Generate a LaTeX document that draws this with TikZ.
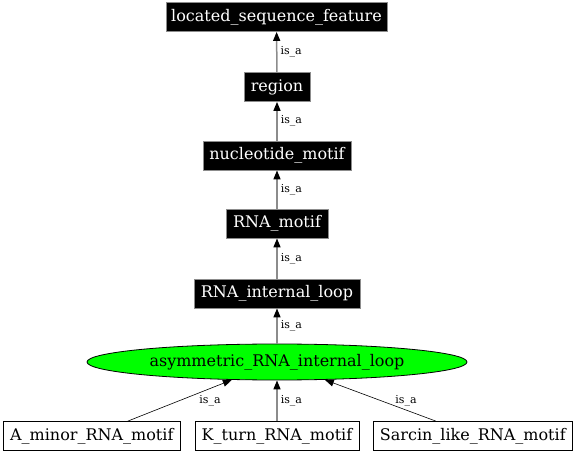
\documentclass[tikz,border=0pt]{standalone}
\usepackage{fontspec}
\setmainfont{DejaVu Serif}
\usetikzlibrary{arrows.meta,shapes.geometric}
\tikzset{
  blackbox/.style={rectangle, fill=black, draw=black!45, line width=0.8pt, text=white, font=\fontsize{16}{19}\selectfont, minimum height=29pt, inner xsep=0pt, inner ysep=0pt},
  whitebox/.style={rectangle, fill=white, draw=black, line width=0.8pt, font=\fontsize{16}{19}\selectfont, minimum height=29pt, inner xsep=0pt, inner ysep=0pt},
  greenell/.style={ellipse, fill=green, draw=black, line width=0.8pt, font=\fontsize{16}{19}\selectfont, minimum width=380pt, minimum height=36pt, inner sep=0pt},
  isa/.style={font=\fontsize{11}{13}\selectfont, inner sep=0pt},
  vedge/.style={draw=black!45, line width=1.5pt, -{Triangle[length=9pt,width=7pt,color=black]}},
  dedge/.style={draw=black, line width=0.6pt, -{Triangle[length=9pt,width=7pt]}},
}
\begin{document}
\begin{tikzpicture}[x=1pt,y=-1pt]
\useasboundingbox (0,0) rectangle (576,454);
\node[blackbox, minimum width=221pt] (lsf) at (276.5,17) {located\_sequence\_feature};
\node[blackbox, minimum width=66pt] (reg) at (277,87) {region};
\node[blackbox, minimum width=148pt] (nm) at (277,155.5) {nucleotide\_motif};
\node[blackbox, minimum width=102pt] (rm) at (277,223.5) {RNA\_motif};
\node[blackbox, minimum width=166pt] (ril) at (277,293.5) {RNA\_internal\_loop};
\node[greenell] (ell) at (277,362) {asymmetric\_RNA\_internal\_loop};
\node[whitebox, minimum width=177pt] (am) at (91.8,436) {A\_minor\_RNA\_motif};
\node[whitebox, minimum width=164pt] (kt) at (277,436) {K\_turn\_RNA\_motif};
\node[whitebox, minimum width=199pt] (sl) at (472.8,436) {Sarcin\_like\_RNA\_motif};
\coordinate (amtop) at ([xshift=36pt]am.north);
\coordinate (sltop) at ([xshift=-37pt]sl.north);
\draw[vedge] (reg) -- (lsf) node[isa, midway, anchor=west, xshift=3pt] (l1) {is\_a};
\draw[vedge] (nm) -- (reg) node[isa, midway, anchor=west, xshift=3pt] (l2) {is\_a};
\draw[vedge] (rm) -- (nm) node[isa, midway, anchor=west, xshift=3pt] (l3) {is\_a};
\draw[vedge] (ril) -- (rm) node[isa, midway, anchor=west, xshift=3pt] (l4) {is\_a};
\draw[vedge] (ell) -- (ril) node[isa, midway, anchor=west, xshift=3pt] (l5) {is\_a};
\draw[vedge] (kt) -- (ell) node[isa, midway, anchor=west, xshift=3pt] (l7) {is\_a};
\draw[dedge] (amtop) -- (ell);
\draw[dedge] (sltop) -- (ell);
\node[isa] (l6) at (210,401) {is\_a};
\node[isa] (l8) at (406,401) {is\_a};
\end{tikzpicture}
\end{document}
